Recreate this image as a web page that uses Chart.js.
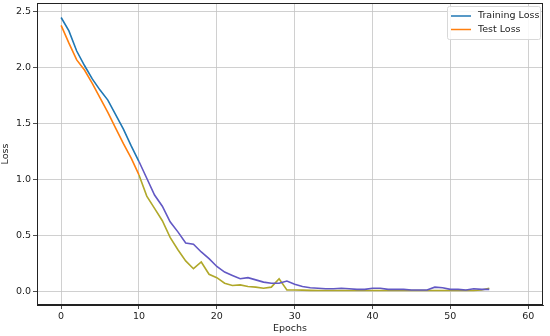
<!DOCTYPE html>
<html>
<head>
<meta charset="utf-8">
<script src="https://cdn.jsdelivr.net/npm/chart.js@4"></script>
<style>
  body { margin: 0; background: #fff; }
  canvas { display: block; }
</style>
</head>
<body>
<canvas id="lossChart" width="550" height="336"></canvas>
<script>
// Loss curves
const epochs = [0, 1, 2, 3, 4, 5, 6, 7, 8, 9, 10, 11, 12, 13, 14, 15, 16, 17, 18, 19,
  20, 21, 22, 23, 24, 25, 26, 27, 28, 29, 30, 31, 32, 33, 34, 35, 36, 37, 38, 39,
  40, 41, 42, 43, 44, 45, 46, 47, 48, 49, 50, 51, 52, 53, 54, 55];
const trainLoss = [2.45, 2.33, 2.15, 2.02, 1.9, 1.8, 1.71, 1.58, 1.45, 1.3,
  1.16, 1.01, 0.86, 0.76, 0.62, 0.53, 0.43, 0.42, 0.35, 0.29,
  0.22, 0.17, 0.14, 0.11, 0.12, 0.1, 0.08, 0.07, 0.07, 0.09,
  0.06, 0.04, 0.03, 0.025, 0.02, 0.02, 0.025, 0.02, 0.015, 0.015,
  0.025, 0.025, 0.015, 0.015, 0.015, 0.01, 0.01, 0.01, 0.035, 0.03,
  0.015, 0.015, 0.01, 0.02, 0.015, 0.015];
const testLoss = [2.38, 2.22, 2.07, 1.98, 1.86, 1.73, 1.6, 1.46, 1.32, 1.19,
  1.04, 0.85, 0.74, 0.63, 0.48, 0.37, 0.27, 0.2, 0.26, 0.15,
  0.12, 0.07, 0.05, 0.055, 0.04, 0.035, 0.025, 0.035, 0.11, 0.01,
  0.01, 0.008, 0.006, 0.005, 0.005, 0.005, 0.005, 0.005, 0.005, 0.005,
  0.005, 0.005, 0.005, 0.005, 0.005, 0.005, 0.005, 0.005, 0.005, 0.005,
  0.005, 0.005, 0.005, 0.005, 0.01, 0.025];
const xTicks = [0, 10, 20, 30, 40, 50, 60];
const yTicks = [0, 0.5, 1, 1.5, 2, 2.5];

const BLUE = "#1f77b4";
const ORANGE = "#ff7f0e";
const PURPLE = "rgb(98, 88, 196)";
const OLIVE = "rgb(176, 168, 42)";
const SHIFT_AT = 9.5; // colours change where curves tint in the picture
const font = { family: "'DejaVu Sans', sans-serif", size: 9.5 };
const ink = "#222";

const toPoints = (ys) => epochs.map((e, i) => ({ x: e, y: ys[i] }));

const frameAndLegend = {
  id: "frameAndLegend",
  afterDraw(chart) {
    const { ctx, chartArea: a } = chart;
    ctx.save();
    ctx.strokeStyle = ink;
    ctx.lineWidth = 1;
    ctx.strokeRect(a.left + 0.5, a.top + 0.5, a.right - a.left - 1, a.bottom - a.top - 1);

    // legend box
    const bx = 447, by = 6, bw = 93, bh = 33;
    ctx.fillStyle = "rgba(255,255,255,0.85)";
    ctx.strokeStyle = "#d8d8d8";
    ctx.beginPath();
    ctx.roundRect(bx + 0.5, by + 0.5, bw, bh, 2);
    ctx.fill();
    ctx.stroke();
    const items = [["Training Loss", BLUE], ["Test Loss", ORANGE]];
    ctx.font = "9.5px 'DejaVu Sans', sans-serif";
    ctx.textBaseline = "middle";
    items.forEach(([label, color], i) => {
      const y = by + 10 + i * 13.5;
      ctx.strokeStyle = color;
      ctx.lineWidth = 1.5;
      ctx.beginPath();
      ctx.moveTo(bx + 4, y);
      ctx.lineTo(bx + 24, y);
      ctx.stroke();
      ctx.fillStyle = ink;
      ctx.fillText(label, bx + 31, y);
    });
    ctx.restore();
  },
};

new Chart(document.getElementById("lossChart").getContext("2d"), {
  type: "line",
  data: {
    datasets: [
      {
        label: "Training Loss",
        data: toPoints(trainLoss),
        borderColor: BLUE,
        borderWidth: 1.6,
        pointRadius: 0,
        tension: 0,
        segment: {
          borderColor: (c) => (c.p0.parsed.x >= SHIFT_AT ? PURPLE : BLUE),
        },
      },
      {
        label: "Test Loss",
        data: toPoints(testLoss),
        borderColor: ORANGE,
        borderWidth: 1.6,
        pointRadius: 0,
        tension: 0,
        segment: {
          borderColor: (c) => (c.p0.parsed.x >= SHIFT_AT ? OLIVE : ORANGE),
        },
      },
    ],
  },
  options: {
    responsive: false,
    animation: false,
    layout: { padding: { top: 3, right: 7, left: 0, bottom: 0 } },
    plugins: { legend: { display: false }, tooltip: { enabled: false } },
    scales: {
      x: {
        type: "linear",
        min: -3.1,
        max: 61.9,
        afterBuildTicks: (s) => { s.ticks = xTicks.map((v) => ({ value: v })); },
        afterFit: (s) => { s.height = 31; s.paddingLeft = 0; s.paddingRight = 0; },
        ticks: { font, color: ink, padding: 2, maxRotation: 0 },
        grid: { color: "#c4c4c4", lineWidth: 0.8, tickColor: ink, tickLength: 4 },
        border: { color: ink, width: 1 },
        title: { display: true, text: "Epochs", font, color: ink, padding: { top: 0, bottom: 2 } },
      },
      y: {
        min: -0.125,
        max: 2.58,
        afterBuildTicks: (s) => { s.ticks = yTicks.map((v) => ({ value: v })); },
        afterFit: (s) => { s.width = 37; s.paddingTop = 0; s.paddingBottom = 0; },
        ticks: { font, color: ink, padding: 2, callback: (v) => v.toFixed(1) },
        grid: { color: "#c4c4c4", lineWidth: 0.8, tickColor: ink, tickLength: 4 },
        border: { color: ink, width: 1 },
        title: { display: true, text: "Loss", font, color: ink, padding: { top: 0, bottom: 0 } },
      },
    },
  },
  plugins: [frameAndLegend],
});
</script>
</body>
</html>
